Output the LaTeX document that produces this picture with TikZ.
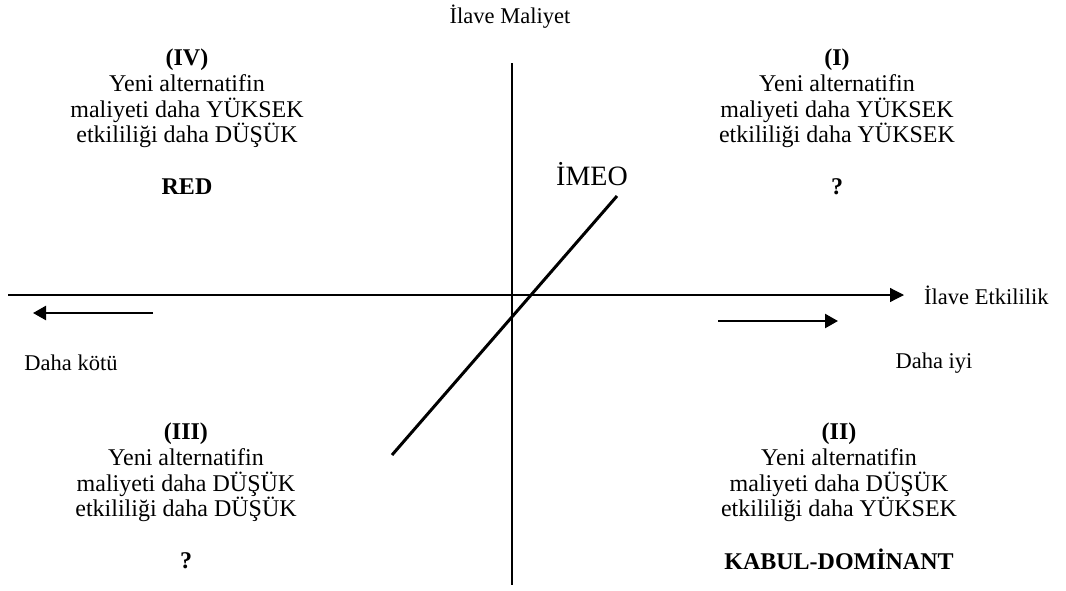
\documentclass[tikz,border=0pt]{standalone}
\usepackage{fontspec}
\setmainfont{Liberation Serif}
\usetikzlibrary{arrows.meta, positioning}

\begin{document}
\begin{tikzpicture}[
    x=1pt, y=-1pt,
    quad/.style={align=center, inner sep=0pt, anchor=north, font=\fontsize{24}{25.7}\selectfont},
    axislbl/.style={inner sep=0pt, font=\fontsize{22.5}{26}\selectfont},
    axis/.style={-{Triangle[length=14pt, width=14pt]}, line width=1.2pt},
    dirarrow/.style={-{Triangle[length=13pt, width=14pt]}, line width=2.4pt},
    imeoline/.style={line width=3pt}
]
    \useasboundingbox (0,0) rectangle (1066,590);

    % axes
    \coordinate (xstart) at (8,295);
    \coordinate (xend) at (904,295);
    \coordinate (ytop) at (512,63);
    \coordinate (ybot) at (512,585);
    \draw [axis] (xstart) -- (xend);
    \draw [line width=1.5pt] (ytop) -- (ybot);
    \node (efflbl) [axislbl, right=20pt of xend] {İlave Etkililik};
    \node (costlbl) [axislbl] at (510,17) {İlave Maliyet};

    % threshold line
    \coordinate (imeolow) at (392,455);
    \coordinate (imeohigh) at (617,196);
    \draw [imeoline] (imeolow) -- (imeohigh);
    \node (imeolbl) [inner sep=0pt, font=\fontsize{28}{30}\selectfont] at (592,174) {İMEO};

    % direction arrows
    \coordinate (worsefrom) at (153,313);
    \coordinate (worseto) at (33,313);
    \coordinate (betterfrom) at (718,321);
    \coordinate (betterto) at (838,321);
    \draw [dirarrow] (worsefrom) -- (worseto);
    \draw [dirarrow] (betterfrom) -- (betterto);
    \node (worselbl) [axislbl] at (71,363) {Daha kötü};
    \node (betterlbl) [axislbl] at (934,363) {Daha iyi};

    % quadrants
    \node (q1) [quad] at (837,49) {\textbf{(I)}\\Yeni alternatifin\\maliyeti daha YÜKSEK\\etkililiği daha YÜKSEK\\[25.7pt]\textbf{?}};
    \node (q4) [quad] at (187,49) {\textbf{(IV)}\\Yeni alternatifin\\maliyeti daha YÜKSEK\\etkililiği daha DÜŞÜK\\[25.7pt]\textbf{RED}};
    \node (q3) [quad] at (186,423) {\textbf{(III)}\\Yeni alternatifin\\maliyeti daha DÜŞÜK\\etkililiği daha DÜŞÜK\\[25.7pt]\textbf{?}};
    \node (q2) [quad] at (839,423) {\textbf{(II)}\\Yeni alternatifin\\maliyeti daha DÜŞÜK\\etkililiği daha YÜKSEK\\[25.7pt]\textbf{KABUL-DOMİNANT}};
\end{tikzpicture}
\end{document}
